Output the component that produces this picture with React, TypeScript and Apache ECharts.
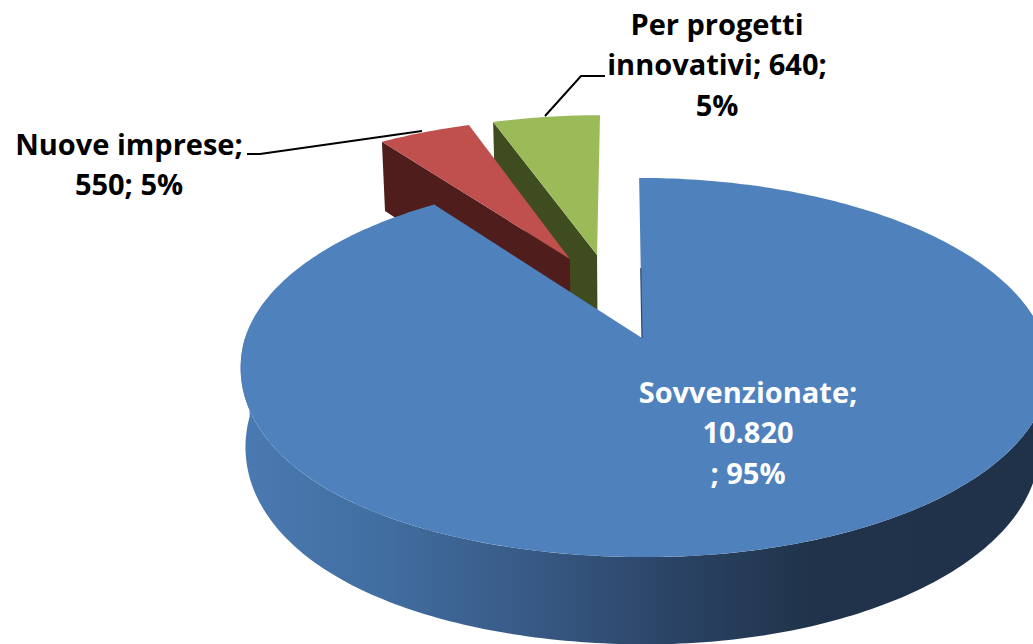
import React, { useEffect, useRef } from "react";
import * as echarts from "echarts";

const categories = ["Sovvenzionate", "Nuove imprese", "Per progetti innovativi"];
const values = [10820, 550, 640];
const labelLines = [
  ["Sovvenzionate;", "10.820", "; 95%"],
  ["Nuove imprese;", "550; 5%"],
  ["Per progetti", "innovativi; 640;", "5%"],
];
const topColors = ["#4f81bd", "#c0504d", "#9bbb59"];
const wallColors = ["#22354f", "#4f1e1c", "#3f4c20"];

// projection of the tilted pie
const ORIGIN_X = 642;
const ORIGIN_Y = 338;
const RX = 397;
const RY = 185;
const PERSP = 0.1557;
const EXPLODE = 0.249;
const DEPTH = 78;
const DEPTH_POW = 0.66;
const BOTTOM_SCALE_LEFT = 0.988;
const BOTTOM_SCALE_RIGHT = 0.975;
const SKEW = 0.018;
const RIGHT_STRETCH = 1.012;
const FRONT_LEFT_BULGE = 15;

type P = [number, number];

const total = values.reduce((a, b) => a + b, 0);
const angles: [number, number][] = [];
{
  let acc = 0;
  for (const v of values) {
    const a0 = (acc / total) * Math.PI * 2;
    acc += v;
    angles.push([a0, (acc / total) * Math.PI * 2]);
  }
}
const dirOf = (i: number): P => {
  const m = (angles[i][0] + angles[i][1]) / 2;
  return [Math.sin(m), Math.cos(m)];
};
const offsetOf = (i: number): P => {
  const d = dirOf(i);
  const b = dirOf(0);
  return [EXPLODE * (d[0] - b[0]), EXPLODE * (d[1] - b[1])];
};
const top = (u: number, v: number): P => {
  const d = 1 + PERSP * v;
  const dx = (RX * u) / d;
  let y = ORIGIN_Y - (RY * v) / d;
  if (u < 0 && v < 0) y += FRONT_LEFT_BULGE * u * u * -v;
  return [ORIGIN_X + (dx > 0 ? dx * RIGHT_STRETCH : dx) + SKEW * (y - ORIGIN_Y), y];
};
const bottom = (u: number, v: number): P => {
  const d = 1 + PERSP * v;
  const p = top(u, v);
  const dx = p[0] - ORIGIN_X;
  return [
    ORIGIN_X + dx * (dx > 0 ? BOTTOM_SCALE_RIGHT : BOTTOM_SCALE_LEFT),
    p[1] + DEPTH / Math.pow(d, DEPTH_POW),
  ];
};
const arc = (i: number, a0: number, a1: number, f: (u: number, v: number) => P): P[] => {
  const o = offsetOf(i);
  const n = Math.max(2, Math.ceil(Math.abs(a1 - a0) * 60));
  const out: P[] = [];
  for (let k = 0; k <= n; k++) {
    const a = a0 + ((a1 - a0) * k) / n;
    out.push(f(o[0] + Math.sin(a), o[1] + Math.cos(a)));
  }
  return out;
};

const blueWallFill = {
  type: "linear",
  x: 241,
  y: 0,
  x2: 1033,
  y2: 0,
  global: true,
  colorStops: [
    { offset: 0, color: "#4a7ab2" },
    { offset: 0.18, color: "#416ea0" },
    { offset: 0.36, color: "#385a86" },
    { offset: 0.55, color: "#2a4364" },
    { offset: 0.72, color: "#20334b" },
    { offset: 1, color: "#1f3249" },
  ],
};

function renderItem(_params: any, api: any) {
  const i = api.value(0) as number;
  const [a0, a1] = angles[i];
  const o = offsetOf(i);
  const children: any[] = [];
  if (i === 0) {
    const t = arc(i, Math.PI * 0.5, Math.PI * 1.5, top);
    const b = arc(i, Math.PI * 0.5, Math.PI * 1.5, bottom).reverse();
    children.push({
      type: "polygon",
      shape: { points: [...t, ...b] },
      style: { fill: blueWallFill },
    });
  } else {
    const outerTop = arc(i, a0, a0, top)[0];
    const outerBot = arc(i, a0, a0, bottom)[0];
    children.push({
      type: "polygon",
      shape: { points: [outerTop, top(o[0], o[1]), bottom(o[0], o[1]), outerBot] },
      style: { fill: wallColors[i] },
    });
  }
  children.push({
    type: "polygon",
    shape: { points: [top(o[0], o[1]), ...arc(i, a0, a1, top)] },
    style: { fill: topColors[i] },
  });
  if (i === 0) {
    const s = top(0, 0.4);
    children.push({
      type: "line",
      shape: { x1: s[0], y1: s[1], x2: ORIGIN_X, y2: ORIGIN_Y },
      style: { stroke: "#2a4a70", lineWidth: 1.2 },
    });
  }
  return { type: "group", children };
}

const seriesData = [2, 1, 0].map((i) => ({ name: categories[i], value: [i, values[i]] }));

const textStyle = (lines: string[], x: number, y: number, fill: string) => ({
  type: "text",
  x,
  y,
  z: 20,
  style: {
    text: lines.join("\n"),
    fill,
    font: 'bold 29px "Open Sans"',
    lineHeight: 40.5,
    textAlign: "center",
    textVerticalAlign: "top",
  },
});

export default function App() {
  const ref = useRef<HTMLDivElement>(null);
  useEffect(() => {
    const chart = echarts.init(ref.current!, undefined, { renderer: "svg" });
    chart.setOption({
      animation: false,
      backgroundColor: "#ffffff",
      series: [
        {
          type: "custom",
          coordinateSystem: "none",
          renderItem,
          data: seriesData,
          silent: true,
        },
      ],
      graphic: [
        {
          type: "polyline",
          z: 20,
          shape: { points: [[605, 76], [581, 76], [545, 116]] },
          style: { stroke: "#000", lineWidth: 2, fill: "none" },
        },
        {
          type: "polyline",
          z: 20,
          shape: { points: [[247, 154], [260, 154], [422, 131]] },
          style: { stroke: "#000", lineWidth: 2, fill: "none" },
        },
        textStyle(labelLines[2], 717, 3, "#000000"),
        textStyle(labelLines[1], 129, 123, "#000000"),
        textStyle(labelLines[0], 748, 371, "#ffffff"),
      ],
    });
    return () => chart.dispose();
  }, []);
  return (
    <div
      ref={ref}
      style={{ position: "fixed", left: 0, top: 0, width: 1033, height: 644 }}
    />
  );
}
